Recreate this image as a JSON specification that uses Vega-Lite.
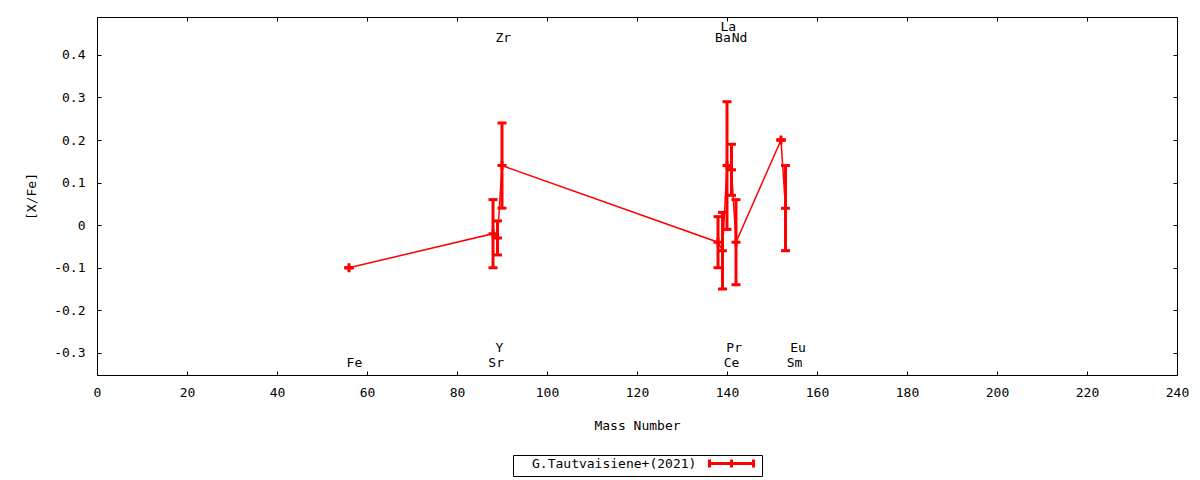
{
  "$schema": "https://vega.github.io/schema/vega-lite/v6.json",
  "width": 1080,
  "height": 358,
  "autosize": "none",
  "padding": {"left": 97, "top": 17, "right": 23, "bottom": 105},
  "background": "#ffffff",
  "config": {
    "view": {"stroke": "#000000", "strokeWidth": 1},
    "font": "DejaVu Sans Mono",
    "axis": {
      "labelFont": "DejaVu Sans Mono",
      "labelFontSize": 13,
      "labelColor": "#000000",
      "titleFont": "DejaVu Sans Mono",
      "titleFontSize": 13,
      "titleFontWeight": "normal",
      "titleColor": "#000000",
      "grid": false,
      "domain": false,
      "tickColor": "#000000",
      "tickSize": -4,
      "tickWidth": 1
    }
  },
  "datasets": {
    "main": [
      {"element": "Fe", "mass": 56, "value": -0.10, "lo": -0.10, "hi": -0.10, "series": "G.Tautvaisiene+(2021)"},
      {"element": "Sr", "mass": 88, "value": -0.02, "lo": -0.10, "hi": 0.06, "series": "G.Tautvaisiene+(2021)"},
      {"element": "Y", "mass": 89, "value": -0.03, "lo": -0.07, "hi": 0.01, "series": "G.Tautvaisiene+(2021)"},
      {"element": "Zr", "mass": 90, "value": 0.14, "lo": 0.04, "hi": 0.24, "series": "G.Tautvaisiene+(2021)"},
      {"element": "Ba", "mass": 138, "value": -0.04, "lo": -0.10, "hi": 0.02, "series": "G.Tautvaisiene+(2021)"},
      {"element": "La", "mass": 139, "value": -0.06, "lo": -0.15, "hi": 0.03, "series": "G.Tautvaisiene+(2021)"},
      {"element": "Ce", "mass": 140, "value": 0.14, "lo": -0.01, "hi": 0.29, "series": "G.Tautvaisiene+(2021)"},
      {"element": "Pr", "mass": 141, "value": 0.13, "lo": 0.07, "hi": 0.19, "series": "G.Tautvaisiene+(2021)"},
      {"element": "Nd", "mass": 142, "value": -0.04, "lo": -0.14, "hi": 0.06, "series": "G.Tautvaisiene+(2021)"},
      {"element": "Sm", "mass": 152, "value": 0.20, "lo": 0.20, "hi": 0.20, "series": "G.Tautvaisiene+(2021)"},
      {"element": "Eu", "mass": 153, "value": 0.04, "lo": -0.06, "hi": 0.14, "series": "G.Tautvaisiene+(2021)"}
    ],
    "labels": [
      {"element": "Fe", "mass": 57.2, "y": -0.324},
      {"element": "Sr", "mass": 88.7, "y": -0.324},
      {"element": "Y", "mass": 89.4, "y": -0.289},
      {"element": "Zr", "mass": 90.3, "y": 0.440},
      {"element": "Ba", "mass": 139.1, "y": 0.440},
      {"element": "La", "mass": 140.3, "y": 0.465},
      {"element": "Ce", "mass": 141.0, "y": -0.324},
      {"element": "Pr", "mass": 141.6, "y": -0.289},
      {"element": "Nd", "mass": 142.8, "y": 0.440},
      {"element": "Sm", "mass": 155.0, "y": -0.324},
      {"element": "Eu", "mass": 155.8, "y": -0.289}
    ]
  },
  "layer": [
    {
      "data": {"name": "main"},
      "mark": {"type": "line", "strokeWidth": 1.5},
      "encoding": {
        "x": {
          "field": "mass", "type": "quantitative",
          "scale": {"domain": [0, 240], "nice": false},
          "axis": {
            "orient": "bottom",
            "title": "Mass Number",
            "values": [0, 20, 40, 60, 80, 100, 120, 140, 160, 180, 200, 220, 240],
            "format": "d",
            "labelPadding": 15,
            "titlePadding": 20,
            "labelFlush": false
          }
        },
        "y": {
          "field": "value", "type": "quantitative",
          "scale": {"domain": [-0.352, 0.489], "nice": false, "zero": false},
          "axis": {
            "orient": "left",
            "title": "[X/Fe]",
            "values": [-0.3, -0.2, -0.1, 0, 0.1, 0.2, 0.3, 0.4],
            "format": ".1~f",
            "labelExpr": "replace(datum.label, '\u2212', '-')",
            "labelPadding": 16,
            "titlePadding": 15,
            "labelFlush": false
          }
        },
        "color": {
          "field": "series", "type": "nominal",
          "scale": {"domain": ["G.Tautvaisiene+(2021)"], "range": ["#ff0000"]},
          "legend": {
            "orient": "none",
            "legendX": 416,
            "legendY": 438,
            "title": null,
            "symbolType": "M-5.5,0H5.5M-5.5,-1V1M5.5,-1V1M0,-1V1",
            "symbolSize": 64,
            "symbolStrokeWidth": 3,
            "labelFont": "DejaVu Sans Mono",
            "labelFontSize": 13,
            "labelColor": "#000000",
            "labelLimit": 400,
            "symbolOffset": 210,
            "labelOffset": -206,
            "padding": 2,
            "strokeColor": "#000000",
            "cornerRadius": 0
          }
        }
      }
    },
    {
      "data": {"name": "main"},
      "mark": {"type": "rule", "color": "#ff0000", "strokeWidth": 3},
      "encoding": {
        "x": {"field": "mass", "type": "quantitative", "axis": null},
        "y": {"field": "lo", "type": "quantitative", "axis": null},
        "y2": {"field": "hi"}
      }
    },
    {
      "data": {"name": "main"},
      "mark": {"type": "tick", "orient": "horizontal", "color": "#ff0000", "size": 9, "thickness": 3, "opacity": 1},
      "encoding": {
        "x": {"field": "mass", "type": "quantitative", "axis": null},
        "y": {"field": "lo", "type": "quantitative", "axis": null}
      }
    },
    {
      "data": {"name": "main"},
      "mark": {"type": "tick", "orient": "horizontal", "color": "#ff0000", "size": 9, "thickness": 3, "opacity": 1},
      "encoding": {
        "x": {"field": "mass", "type": "quantitative", "axis": null},
        "y": {"field": "hi", "type": "quantitative", "axis": null}
      }
    },
    {
      "data": {"name": "main"},
      "mark": {"type": "point", "shape": "M-1,0H1M0,-1V1", "filled": false, "color": "#ff0000", "size": 81, "strokeWidth": 3, "opacity": 1},
      "encoding": {
        "x": {"field": "mass", "type": "quantitative", "axis": null},
        "y": {"field": "value", "type": "quantitative", "axis": null}
      }
    },
    {
      "data": {"name": "labels"},
      "mark": {"type": "text", "font": "DejaVu Sans Mono", "fontSize": 13, "color": "#000000", "align": "center", "baseline": "middle"},
      "encoding": {
        "x": {
          "field": "mass", "type": "quantitative",
          "axis": {"orient": "top", "labels": false, "title": null,
                   "values": [0, 20, 40, 60, 80, 100, 120, 140, 160, 180, 200, 220, 240]}
        },
        "y": {
          "field": "y", "type": "quantitative",
          "axis": {"orient": "right", "labels": false, "title": null,
                   "values": [-0.3, -0.2, -0.1, 0, 0.1, 0.2, 0.3, 0.4]}
        },
        "text": {"field": "element"}
      }
    }
  ],
  "resolve": {"axis": {"x": "independent", "y": "independent"}}
}
